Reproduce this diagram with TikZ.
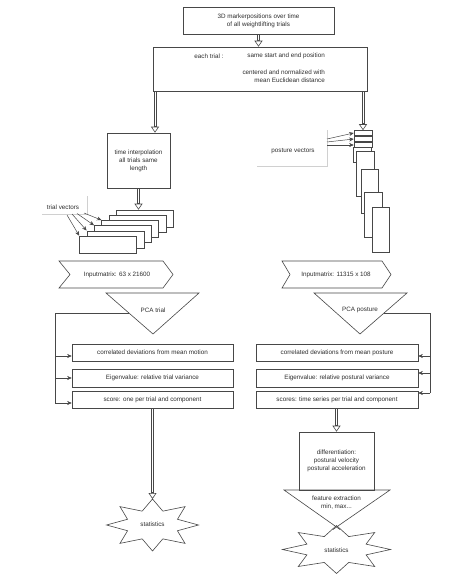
\documentclass[tikz,border=0pt]{standalone}
\usepackage{fontspec}
\setmainfont{Liberation Sans}
\usetikzlibrary{arrows.meta,calc}
\definecolor{lc}{HTML}{474747}
\definecolor{tc}{HTML}{2E2E2E}
\definecolor{fc}{HTML}{D0D0D0}
\newcommand{\dblarr}[2]{%
  \draw[ln] ($#1+(-1.2,0)$) -- ($#2+(-1.2,-5)$);
  \draw[ln] ($#1+(1.2,0)$) -- ($#2+(1.2,-5)$);
  \draw[dtip] ($#2+(0,-7)$) -- #2;}
\begin{document}
\begin{tikzpicture}[x=1pt,y=-1pt,
  font=\fontsize{6.3}{8}\selectfont,
  box/.style={draw=lc, line width=0.6pt, fill=white, inner sep=0pt, align=center, text=tc},
  txt/.style={inner sep=0pt, text=tc, align=center},
  shp/.style={draw=lc, line width=0.6pt, fill=white},
  ln/.style={draw=lc, line width=0.6pt},
  sarr/.style={draw=lc, line width=0.5pt, -{Stealth[length=4.5pt,width=4pt]}},
  dtip/.style={draw=lc, line width=0.6pt, -{Triangle[length=6pt,width=8pt,fill=white,line width=0.6pt]}},
  faint/.style={draw=fc, line width=0.4pt}]
\useasboundingbox (0,0) rectangle (474,583);
\fill[white] (0,0) rectangle (474,583);

% top
\node[box, minimum width=151pt, minimum height=27pt] (top) at (258.5,20.5) {3D markerpositions over time\\of all weightlifting trials};
\node[box, minimum width=214pt, minimum height=44pt] (each) at (260,69) {};
\node[txt] (t1) at (209,56) {each trial :};
\node[txt, anchor=east] (t2) at (325,56) {same start and end position};
\node[txt, anchor=east, align=right] (t3) at (325,76) {centered and normalized with\\mean Euclidean distance};
\dblarr{(top.south)}{(top.south |- each.north)}

% time interpolation
\node[box, minimum width=63pt, minimum height=55pt] (time) at (138.5,160.5) {time interpolation\\all trials same\\length};
\coordinate (ta) at (155,0);
\dblarr{(each.south -| ta)}{(time.north -| ta)}

% trial vectors stack
\foreach \i in {0,...,5} {
  \node[box, minimum width=57pt, minimum height=17pt] (tv\i) at ({145-7.4*\i},{218.5+5.2*\i}) {};
}
\dblarr{(time.south)}{(time.south |- tv0.north)}
\node[txt] (tvl) at (63,207) {trial vectors};
\draw[faint] (87,196) -- (87,214) -- (42,214);
\draw[sarr] (84,213) -- (tv2.north west);
\draw[sarr] (77,213.5) -- (tv3.north west);
\draw[sarr] (72,214) -- (tv4.north west);
\draw[sarr] (67,215) -- (tv5.north west);

% posture vectors stack
\node[box, minimum width=18pt, minimum height=15pt] (p0) at (362,154.5) {};
\node[box, minimum width=18pt, minimum height=45pt] (pa) at (365,173.5) {};
\node[box, minimum width=17pt, minimum height=44pt] (pb) at (369.5,191) {};
\node[box, minimum width=18pt, minimum height=45pt] (pc) at (373,214.5) {};
\node[box, minimum width=17pt, minimum height=45pt] (pd) at (380.5,229.5) {};
\node[box, minimum width=18pt, minimum height=5pt] (ps3) at (363,145) {};
\node[box, minimum width=18pt, minimum height=5pt] (ps2) at (363,139) {};
\node[box, minimum width=18pt, minimum height=5pt] (ps1) at (363,133) {};
\dblarr{(each.south -| ps1.north)}{(ps1.north)}
\node[txt] (pvl) at (293,151) {posture vectors};
\draw[faint] (327,130) -- (327,166) -- (257,166);
\draw[sarr] (327,139) -- (ps1.west);
\draw[sarr] (327,142) -- (ps2.west);
\draw[sarr] (327,145) -- (ps3.west);

% input matrices
\draw[shp] (59,261) -- (163,261) -- (173,274.5) -- (163,288) -- (59,288) -- (70,274.5) -- cycle;
\node[txt] (inL) at (117,274.5) {Inputmatrix: 63 x 21600};
\draw[shp] (282,261) -- (382,261) -- (391,274.5) -- (382,288) -- (282,288) -- (290,274.5) -- cycle;
\node[txt] (inR) at (336,274.5) {Inputmatrix: 11315 x 108};

% PCA triangles
\draw[shp] (106,293) -- (199,293) -- (153,334) -- cycle;
\node[txt] (pcaL) at (153,310) {PCA trial};
\draw[shp] (314,293) -- (407,293) -- (360,334) -- cycle;
\node[txt] (pcaR) at (360,310) {PCA posture};

% left result boxes
\node[box, minimum width=161pt, minimum height=17pt] (lb1) at (152.5,352.5) {correlated deviations from mean motion};
\node[box, minimum width=161pt, minimum height=18pt] (lb2) at (152.5,378) {Eigenvalue: relative trial variance};
\node[box, minimum width=161pt, minimum height=17pt] (lb3) at (152.5,399.5) {score: one per trial and component};
\coordinate (LT) at (129,313);
\coordinate (LC) at (55,313);
\coordinate (LB) at (55,403);
\draw[ln] (LT) -- (LC) -- (LB);
\draw[sarr] (LC |- 0,356) -- (lb1.west |- 0,356);
\draw[sarr] (LC |- 0,378) -- (lb2.west |- 0,378);
\draw[sarr] (LB) -- (LB -| lb3.west);

% right result boxes
\node[box, minimum width=162pt, minimum height=17pt] (rb1) at (337,352.5) {correlated deviations from mean posture};
\node[box, minimum width=162pt, minimum height=18pt] (rb2) at (337,378) {Eigenvalue: relative postural variance};
\node[box, minimum width=162pt, minimum height=17pt] (rb3) at (337,399.5) {scores: time series per trial and component};
\coordinate (RT) at (384,313);
\coordinate (RC) at (430,313);
\coordinate (RB) at (430,393);
\draw[ln] (RT) -- (RC) -- (RB);
\draw[sarr] (RC |- 0,356) -- (rb1.east |- 0,356);
\draw[sarr] (RC |- 0,373) -- (rb2.east |- 0,373);
\draw[sarr] (RB) -- (RB -| rb3.east);

% left statistics
\begin{scope}[shift={(152.5,525)}]
\draw[shp] (0:46 and 26) \foreach \a in {0,45,...,315} { -- (\a:46 and 26) -- ({\a+22.5}:27 and 15) } -- cycle;
\end{scope}
\node[txt] (statL) at (152.5,524) {statistics};
\coordinate (sLtop) at (152.5,499);
\dblarr{(lb3.south)}{(lb3.south |- sLtop)}

% right: differentiation, feature extraction, statistics
\node[box, minimum width=75pt, minimum height=58pt] (diff) at (336.5,461) {differentiation:\\postural velocity\\postural acceleration};
\dblarr{(rb3.south -| diff.north)}{(diff.north)}
\begin{scope}[shift={(336.5,549.5)}]
\draw[shp] (0:54 and 24) \foreach \a in {0,45,...,315} { -- (\a:54 and 24) -- ({\a+22.5}:32 and 14) } -- cycle;
\end{scope}
\draw[ln] (284,490) -- (390,490) -- (336.5,527) -- cycle;
\draw[ln] (336.5,527) -- (340,529.5);
\draw[ln] (336.5,527) -- (333,529.5);
\node[txt] (feat) at (336.5,503) {feature extraction\\min, max...};
\node[txt] (statR) at (336.5,550) {statistics};
\end{tikzpicture}
\end{document}
